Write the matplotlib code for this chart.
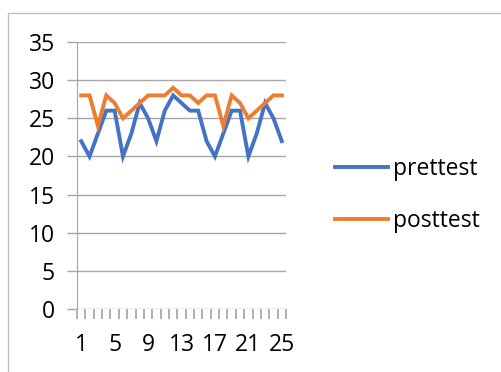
import matplotlib
matplotlib.use('Agg')
from matplotlib import pyplot as plt
from matplotlib.patches import Rectangle
import numpy as np

# values
students = list(range(1, 26))
prettest = [22, 20, 23, 26, 26, 20, 23, 27, 25, 22, 26, 28, 27, 26, 26,
            22, 20, 23, 26, 26, 20, 23, 27, 25, 22]
posttest = [28, 28, 24, 28, 27, 25, 26, 27, 28, 28, 28, 29, 28, 28, 27,
            28, 28, 24, 28, 27, 25, 26, 27, 28, 28]
y_ticks = [0, 5, 10, 15, 20, 25, 30, 35]
x_labels = [1, 5, 9, 13, 17, 21, 25]

plt.rcParams['font.family'] = ['Open Sans', 'DejaVu Sans']
FS = 16.5
GRID = '#a6a6a6'

fig = plt.figure(figsize=(5.02, 3.72), dpi=100)
# chart frame, runs off the right and bottom edges
fig.patches.append(Rectangle((8 / 502, -0.1), 1.0, 1 - 13 / 372 + 0.1,
                             transform=fig.transFigure, fill=False,
                             edgecolor='#bfbfbf', linewidth=1.0))

ax = fig.add_axes([77 / 502, 1 - 309 / 372, 209 / 502, 267 / 372])
ax.plot(students, prettest, color='#4472C4', linewidth=2.8, label='prettest',
        solid_joinstyle='miter')
ax.plot(students, posttest, color='#ED7D31', linewidth=2.8, label='posttest',
        solid_joinstyle='miter')

ax.set_xlim(0.5, 25.5)
ax.set_ylim(0, 35)
ax.set_yticks(y_ticks)
ax.set_yticklabels([str(v) for v in y_ticks], fontsize=FS)
ax.set_xticks(x_labels)
ax.set_xticklabels([str(v) for v in x_labels], fontsize=FS)
ax.set_xticks(np.arange(0.5, 26, 1.0), minor=True)
ax.tick_params(axis='x', which='major', length=0, pad=17)
ax.tick_params(axis='x', which='minor', length=7, width=1.1, color='#999999',
               direction='out')
ax.tick_params(axis='y', length=7, width=1, color=GRID, pad=9)
ax.yaxis.grid(True, color=GRID, linewidth=1)
ax.set_axisbelow(True)
for side in ['top', 'right', 'bottom']:
    ax.spines[side].set_visible(False)
ax.spines['left'].set_color(GRID)

fig.legend(loc='center left', bbox_to_anchor=(335 / 502, 1 - 195 / 372),
           frameon=False, fontsize=16.5, handlelength=2.3, handletextpad=0.22,
           labelspacing=1.2, borderpad=0, borderaxespad=0)

fig.savefig('out.png', dpi=100)
